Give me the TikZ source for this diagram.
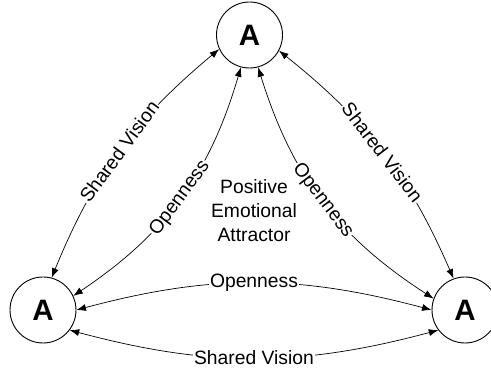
\documentclass[tikz,border=0pt]{standalone}
\usepackage{fontspec}
\setmainfont{Liberation Sans}
\usetikzlibrary{arrows.meta}
\begin{document}
\begin{tikzpicture}[x=1pt,y=1pt,
  agent/.style={circle,draw,line width=0.9pt,minimum size=66pt,inner sep=0pt,font=\fontsize{29.5}{30}\selectfont\bfseries},
  link/.style={line width=0.7pt,{Latex[length=9.5pt,width=7pt]}-{Latex[length=9.5pt,width=7pt]}},
  lab/.style={midway,sloped,fill=white,inner sep=1pt,font=\fontsize{19.3}{22}\selectfont}]
\useasboundingbox (0,0) rectangle (491,377);
\node[agent] (top) at (249.5,342) {A};
\node[agent] (left) at (43,67) {A};
\node[agent] (right) at (465,67) {A};
\node[align=center,font=\fontsize{19.3}{24}\selectfont] (pea) at (254,166) {Positive\\Emotional\\Attractor};
\draw[link] (top.205) to[bend right=14] node[lab] {Shared Vision} (left.75);
\draw[link] (top.255) to[bend left=20] node[lab] {Openness} (left.25);
\draw[link] (top.332) to[bend left=14] node[lab] {Shared Vision} (right.110);
\draw[link] (top.285) to[bend right=20] node[lab] {Openness} (right.160);
\draw[link] (left.0) to[bend left=15] node[lab] {Openness} (right.180);
\draw[link] (left.323) to[bend right=15] node[lab] {Shared Vision} (right.217);
\end{tikzpicture}
\end{document}
